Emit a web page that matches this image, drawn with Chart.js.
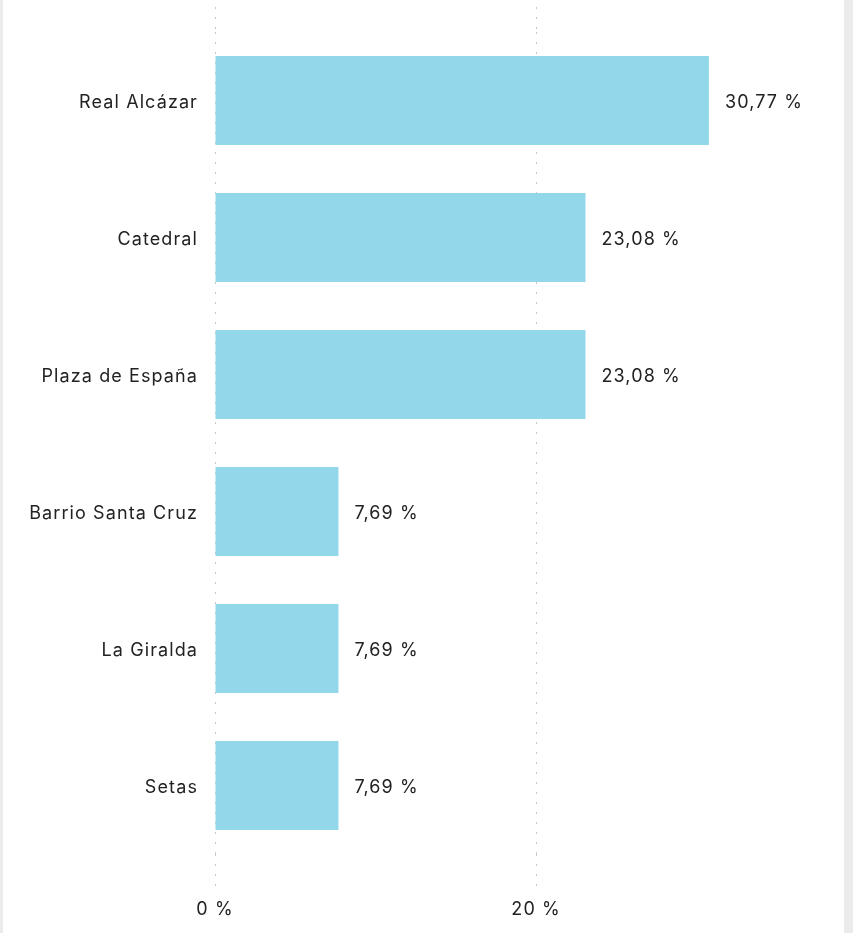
<!DOCTYPE html>
<html>
<head>
<meta charset="utf-8">
<script src="https://cdn.jsdelivr.net/npm/chart.js@4.4.1/dist/chart.umd.min.js"></script>
<style>
  html, body { margin: 0; padding: 0; background: #ebebeb; }
  #wrap { position: absolute; left: 3px; top: 0; width: 841px; height: 933px; background: #fff; }
</style>
</head>
<body>
<div id="wrap"><canvas id="myChart" width="841" height="933"></canvas></div>
<script>
// data
const categories = ["Real Alcázar", "Catedral", "Plaza de España", "Barrio Santa Cruz", "La Giralda", "Setas"];
const shares = [30.77, 23.08, 23.08, 7.69, 7.69, 7.69];
const tickValues = [0, 20];

const FONT = "Inter, 'Noto Sans', sans-serif";
const fmt = (v) => v.toLocaleString("es-ES", { minimumFractionDigits: 2, maximumFractionDigits: 2 }) + " %";

// only keep 0 and 20 ticks
const keepTicks = (scale) => {
  scale.ticks = tickValues.map((v) => ({ value: v }));
};

// the reference font is a bit wider than Inter
const spacing = {
  id: "spacing",
  beforeDraw(chart) {
    if ("letterSpacing" in chart.ctx) chart.ctx.letterSpacing = "1.1px";
  },
};

// labels at the end of each bar
const valueLabels = {
  id: "valueLabels",
  afterDatasetsDraw(chart) {
    const ctx = chart.ctx;
    const meta = chart.getDatasetMeta(0);
    ctx.save();
    ctx.font = "18px " + FONT;
    ctx.fillStyle = "#222";
    ctx.textAlign = "left";
    ctx.textBaseline = "middle";
    meta.data.forEach((bar, i) => {
      ctx.fillText(fmt(shares[i]), bar.x + 16, bar.y + 2);
    });
    ctx.restore();
  },
};

const gridOpts = {
  color: "#c8c8c8",
  lineWidth: 1,
  tickColor: "#c8c8c8",
  tickBorderDash: [2, 8],
  drawTicks: true,
};

let ctx = document.getElementById("myChart").getContext("2d");
let myChart = new Chart(ctx, {
  type: "bar",
  data: {
    labels: categories,
    datasets: [
      {
        data: shares,
        backgroundColor: "#93d8ea",
        borderWidth: 0,
        barPercentage: 0.65,
        categoryPercentage: 1,
      },
    ],
  },
  plugins: [spacing, valueLabels],
  options: {
    indexAxis: "y",
    responsive: false,
    animation: false,
    layout: { padding: { top: 7, right: 11, bottom: 0, left: 0 } },
    plugins: { legend: { display: false }, tooltip: { enabled: false } },
    scales: {
      x: {
        position: "bottom",
        min: 0,
        max: 38.5,
        afterBuildTicks: keepTicks,
        border: { display: false, dash: [2, 8] },
        grid: Object.assign({}, gridOpts, { tickLength: 34 }),
        ticks: {
          padding: 11,
          color: "#222",
          font: { family: FONT, size: 18 },
          callback: (v) => v + " %",
        },
        afterFit: (scale) => { scale.height = 79; },
      },
      x2: {
        position: "top",
        min: 0,
        max: 38.5,
        afterBuildTicks: keepTicks,
        border: { display: false, dash: [2, 8] },
        grid: Object.assign({}, gridOpts, { tickLength: 25, drawOnChartArea: false }),
        ticks: { display: false },
        afterFit: (scale) => { scale.height = 25; },
      },
      y: {
        border: { display: false },
        grid: { display: false, drawTicks: false },
        ticks: {
          padding: 17,
          labelOffset: 2,
          color: "#222",
          font: { family: FONT, size: 18 },
        },
        afterFit: (scale) => { scale.width = 212; },
      },
    },
  },
});
</script>
</body>
</html>
